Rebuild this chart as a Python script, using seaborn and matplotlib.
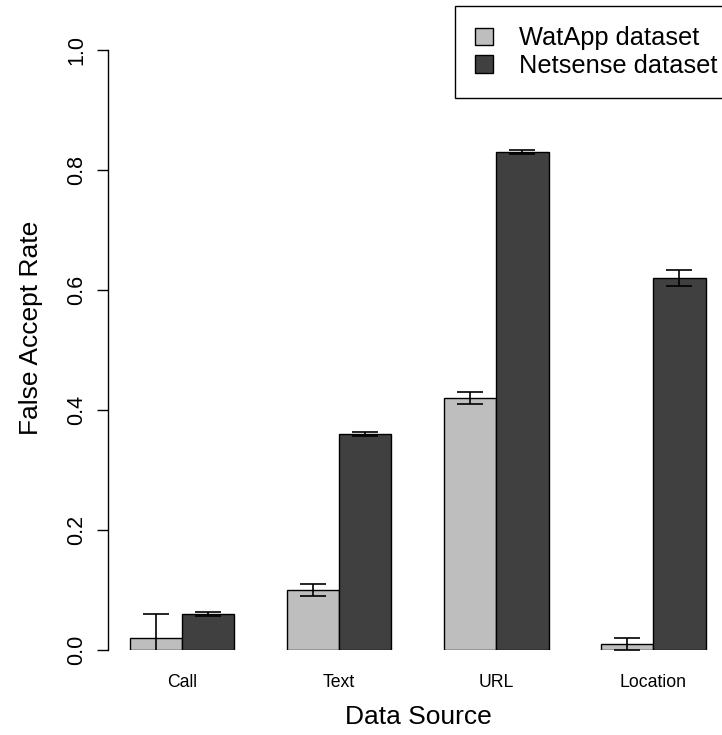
import matplotlib
matplotlib.use("Agg")
import matplotlib.pyplot as plt
import numpy as np
import pandas as pd
import seaborn as sns
from matplotlib.patches import Patch

# ---- data ----
sources = ["Call", "Text", "URL", "Location"]
datasets = ["WatApp dataset", "Netsense dataset"]
watapp_rate = [0.02, 0.10, 0.42, 0.01]
netsense_rate = [0.06, 0.36, 0.83, 0.62]
watapp_err = [0.04, 0.01, 0.01, 0.01]
netsense_err = [0.003, 0.003, 0.003, 0.014]
colors = ["#BEBEBE", "#404040"]
y_ticks = [0.0, 0.2, 0.4, 0.6, 0.8, 1.0]
y_tick_labels = ["0.0", "0.2", "0.4", "0.6", "0.8", "1.0"]

df = pd.DataFrame({
    "source": sources * 2,
    "dataset": [datasets[0]] * 4 + [datasets[1]] * 4,
    "rate": watapp_rate + netsense_rate,
})
errs = [watapp_err, netsense_err]

sns.set_style("white")
plt.rcParams["font.family"] = ["Liberation Sans", "DejaVu Sans"]
plt.rcParams["text.color"] = "black"
plt.rcParams["axes.labelcolor"] = "black"
plt.rcParams["xtick.color"] = "black"
plt.rcParams["ytick.color"] = "black"

fig = plt.figure(figsize=(7.22, 7.35), dpi=100)
ax = fig.add_axes([108 / 722, (735 - 650) / 735, 621 / 722, 644 / 735])

sns.barplot(data=df, x="source", y="rate", hue="dataset", order=sources,
            hue_order=datasets, palette=colors, width=2 / 3, saturation=1,
            edgecolor="black", linewidth=1, errorbar=None, legend=False, ax=ax)

for cont, e in zip(ax.containers, errs):
    xs = [p.get_x() + p.get_width() / 2 for p in cont.patches]
    hs = [p.get_height() for p in cont.patches]
    ax.errorbar(xs, hs, yerr=e, fmt="none", ecolor="black", elinewidth=1.2,
                capsize=9.7, capthick=1.2, clip_on=True, zorder=5)

ax.set_xlim(-0.471, 3.482)
ax.set_ylim(0, 1.0733)
for s in ["top", "right", "bottom"]:
    ax.spines[s].set_visible(False)
ax.spines["left"].set_bounds(0, 1)
ax.spines["left"].set_color("black")
ax.spines["left"].set_linewidth(1)

ax.set_yticks(y_ticks)
ax.set_yticklabels(y_tick_labels)
ax.tick_params(axis="y", left=True, length=8, width=1, pad=6.8, labelsize=15.5,
               labelrotation=90, colors="black")
for lab in ax.get_yticklabels():
    lab.set_va("center")
ax.tick_params(axis="x", bottom=False, length=0, pad=17, labelsize=12.7,
               colors="black")

ax.set_xlabel("Data Source", fontsize=19, labelpad=10, color="black")
ax.set_ylabel("False Accept Rate", fontsize=19, labelpad=17, color="black")

handles = [Patch(facecolor=c, edgecolor="black", linewidth=1, label=l)
           for c, l in zip(colors, datasets)]
leg = ax.legend(handles=handles, loc="upper right", bbox_to_anchor=(1.015, 1),
                borderaxespad=0, fontsize=18.3, frameon=True, fancybox=False,
                edgecolor="black", borderpad=0.8, labelspacing=0.15,
                handlelength=0.7, handleheight=0.7, handletextpad=1.05,
                framealpha=1)
leg.get_frame().set_linewidth(1)
for t in leg.get_texts():
    t.set_color("black")

fig.savefig("out.png", dpi=100)
